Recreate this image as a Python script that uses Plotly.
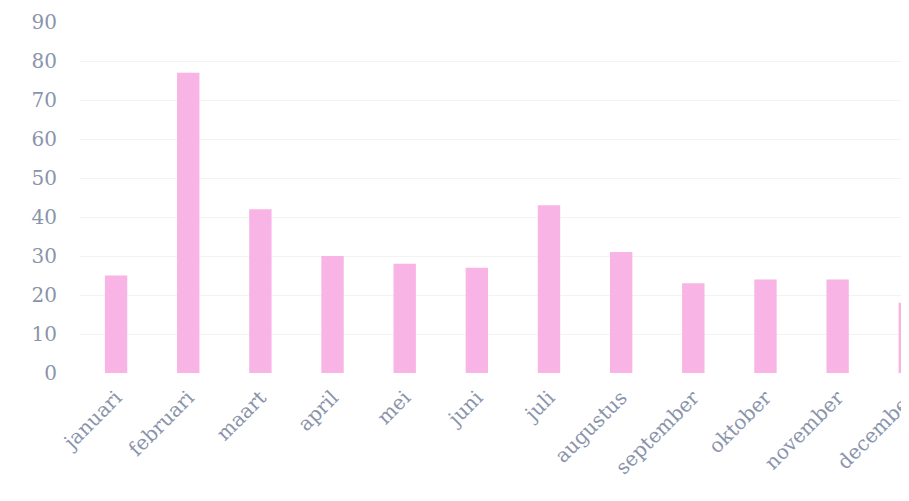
import plotly.graph_objects as go

months = ["januari", "februari", "maart", "april", "mei", "juni", "juli",
          "augustus", "september", "oktober", "november", "december"]
values = [25, 77, 42, 30, 28, 27, 43, 31, 23, 24, 24, 18]
y_ticks = [0, 10, 20, 30, 40, 50, 60, 70, 80, 90]

fig = go.Figure(go.Bar(
    x=months, y=values,
    marker=dict(color="#f7b4e4", line=dict(width=0)),
    hoverinfo="x+y",
))

font_family = "DejaVu Serif, Liberation Serif, serif"
fig.update_layout(
    width=909, height=501,
    margin=dict(l=72, r=0, t=14, b=136, autoexpand=False),
    paper_bgcolor="white", plot_bgcolor="white",
    bargap=0.69,
    showlegend=False,
    font=dict(family=font_family, color="#8a94ab", size=19),
)
fig.update_xaxes(
    range=[-0.5, 11.1],
    tickangle=-45,
    showgrid=False, showline=False, zeroline=False,
    tickfont=dict(size=20, color="#8a94ab"),
    ticks="", ticklabelstandoff=8,
)
fig.update_yaxes(
    range=[0, 90],
    tickvals=y_ticks,
    showgrid=True, gridcolor="#f3f3f3", gridwidth=1,
    zeroline=False, showline=False,
    ticks="", ticklabelstandoff=22,
    tickfont=dict(size=20, color="#8a94ab"),
)

fig.write_html("out.html")
